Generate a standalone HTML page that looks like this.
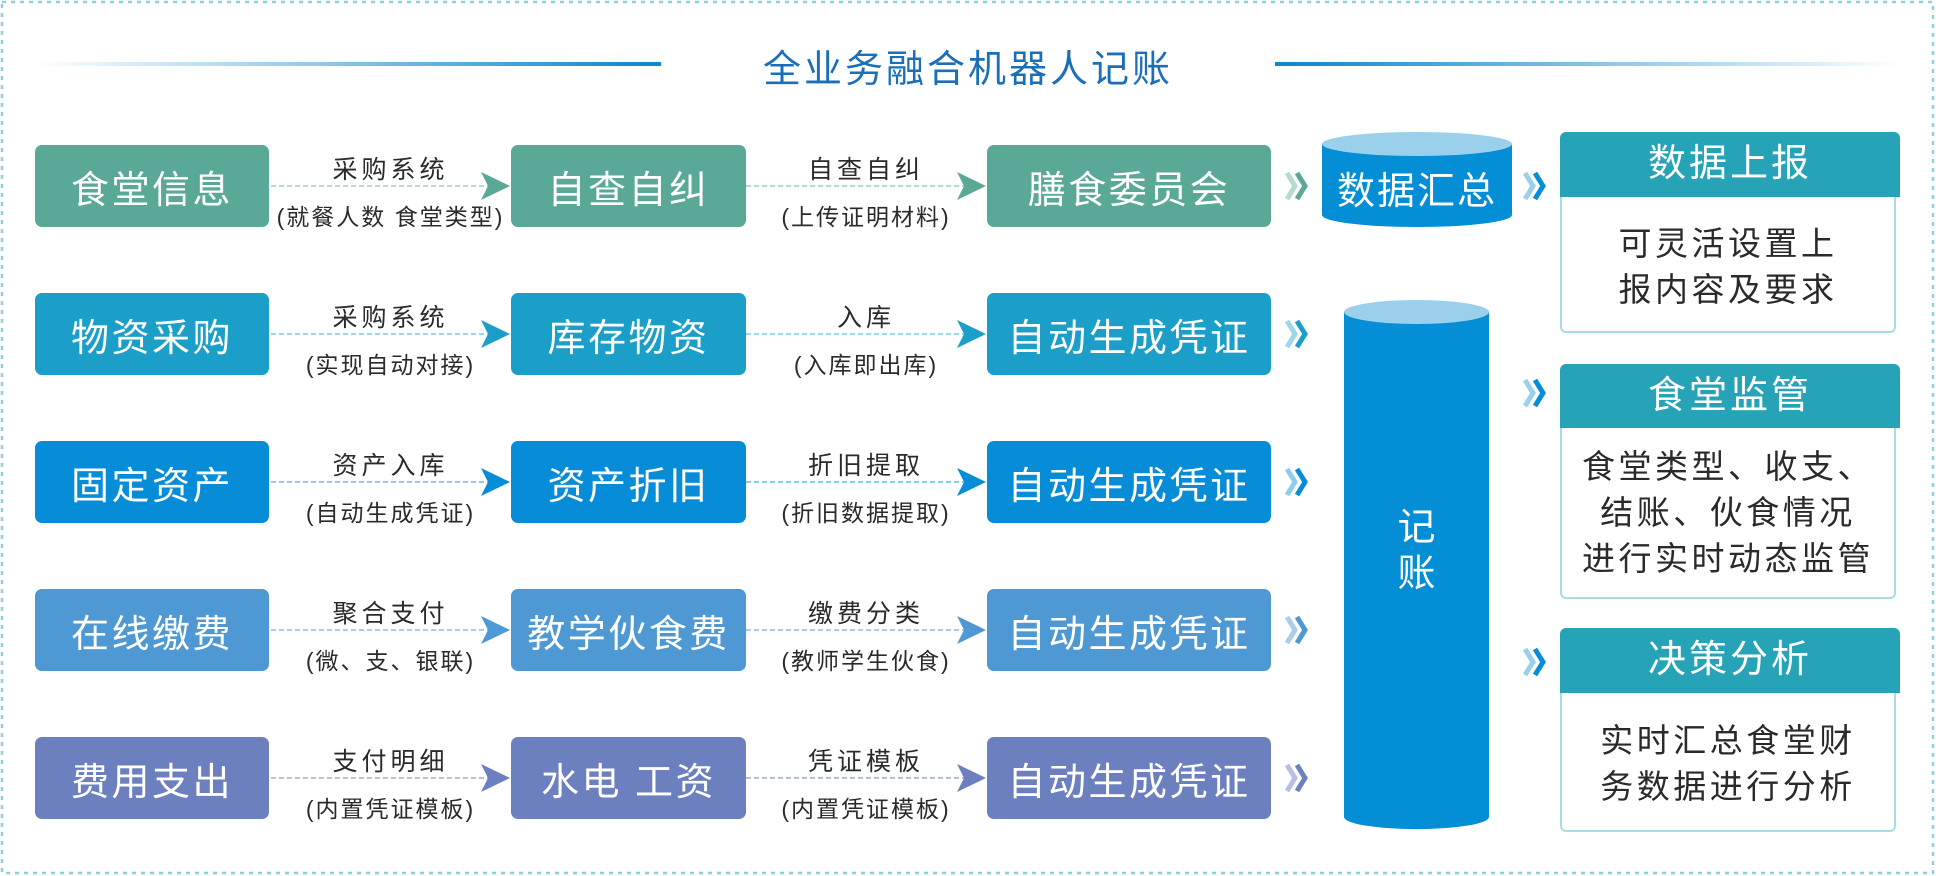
<!DOCTYPE html>
<html><head><meta charset="utf-8"><style>
body{margin:0;width:1936px;height:876px;background:#fff;position:relative;overflow:hidden;font-family:"Liberation Sans","Noto Sans CJK SC",sans-serif}
.a{position:absolute}
.box{position:absolute;color:#fff;font-size:38px;display:flex;align-items:center;justify-content:center;border-radius:7px;letter-spacing:2.5px}
.lbl{position:absolute;width:240px;text-align:center;font-size:25px;color:#2a2a2a;letter-spacing:4px}
.ph{position:absolute;left:1560px;width:340px;background:#27a3b8;color:#fff;font-size:38px;text-align:center;border-radius:6px 6px 0 0;letter-spacing:3px}
.pb{position:absolute;left:1560px;width:336px;border:2px solid #a8dbe5;border-top:none;border-radius:0 0 6px 6px;font-size:33px;color:#2a2a2a;text-align:center;line-height:46px;letter-spacing:3.5px}
</style></head><body>
<svg class="a" style="left:0;top:0" width="1936" height="876">
<defs>
<linearGradient id="g1" x1="0" x2="1"><stop offset="0" stop-color="#0a86d0" stop-opacity="0"/><stop offset="1" stop-color="#0a86d0"/></linearGradient>
<linearGradient id="g2" x1="0" x2="1"><stop offset="0" stop-color="#0a86d0"/><stop offset="1" stop-color="#0a86d0" stop-opacity="0"/></linearGradient>
</defs>
<rect x="2" y="2" width="1931" height="871" fill="none" stroke="#8fd0de" stroke-width="2.5" stroke-dasharray="4 5"/>
<rect x="35" y="62" width="626" height="4" fill="url(#g1)"/>
<rect x="1275" y="62" width="626" height="4" fill="url(#g2)"/>
<g id="arrows"></g>
<path d="M1322 144 V215 A95 12 0 0 0 1512 215 V144 Z" fill="#048ed6"/>
<ellipse cx="1417" cy="144" rx="95" ry="12" fill="#9bd0ec"/>
<path d="M1344 312 V817 A72 12 0 0 0 1489 817 V312 Z" fill="#048ed6"/>
<ellipse cx="1416.5" cy="312" rx="72.5" ry="12" fill="#9bd0ec"/>
</svg>
<div class="a" style="left:560px;top:38px;width:816px;text-align:center;font-size:38px;color:#1a6fb8;letter-spacing:3px">全业务融合机器人记账</div>
<div class="a" style="left:1322px;top:160px;width:190px;text-align:center;font-size:38px;color:#fff;letter-spacing:2px">数据汇总</div>
<div class="a" style="left:1344px;top:505px;width:145px;text-align:center;font-size:38px;color:#fff;line-height:46px">记<br>账</div>

<div class="ph" style="top:132px;height:65px;line-height:65px">数据上报</div>
<div class="pb" style="top:197px;height:136px;padding-top:24px;box-sizing:border-box">可灵活设置上<br>报内容及要求</div>
<div class="ph" style="top:364px;height:64px;line-height:64px">食堂监管</div>
<div class="pb" style="top:428px;height:171px;padding-top:16px;box-sizing:border-box">食堂类型、收支、<br>结账、伙食情况<br>进行实时动态监管</div>
<div class="ph" style="top:628px;height:65px;line-height:65px">决策分析</div>
<div class="pb" style="top:693px;height:139px;padding-top:25px;box-sizing:border-box">实时汇总食堂财<br>务数据进行分析</div>

<div id="rows"></div>
<script>
var rows=[
["#5aa996","#b3dbd0",["食堂信息","自查自纠","膳食委员会"],["采购系统","(就餐人数 食堂类型)"],["自查自纠","(上传证明材料)"]],
["#1b9fc9","#9fd6ea",["物资采购","库存物资","自动生成凭证"],["采购系统","(实现自动对接)"],["入库","(入库即出库)"]],
["#078cd8","#8fcdee",["固定资产","资产折旧","自动生成凭证"],["资产入库","(自动生成凭证)"],["折旧提取","(折旧数据提取)"]],
["#4e98d4","#a9cdeb",["在线缴费","教学伙食费","自动生成凭证"],["聚合支付","(微、支、银联)"],["缴费分类","(教师学生伙食)"]],
["#6c80bf","#b7c0e2",["费用支出","水电 工资","自动生成凭证"],["支付明细","(内置凭证模板)"],["凭证模板","(内置凭证模板)"]]];
var xs=[[35,234],[511,235],[987,284]];
var h="",s="";
function chev(x,y,c1,c2){return '<polyline points="'+x+','+(y-13)+' '+(x+8)+','+y+' '+x+','+(y+13)+'" fill="none" stroke="'+c1+'" stroke-width="5"/><polyline points="'+(x+10)+','+(y-13)+' '+(x+18)+','+y+' '+(x+10)+','+(y+13)+'" fill="none" stroke="'+c2+'" stroke-width="5"/>';}
rows.forEach(function(r,i){
 var top=145+i*148,cy=top+41;
 for(var j=0;j<3;j++)h+='<div class="box" style="left:'+xs[j][0]+'px;top:'+top+'px;width:'+xs[j][1]+'px;height:82px;background:'+r[0]+'">'+r[2][j]+'</div>';
 [[271,510,r[3]],[746,986,r[4]]].forEach(function(a){
  s+='<line x1="'+a[0]+'" y1="'+cy+'" x2="'+(a[1]-20)+'" y2="'+cy+'" stroke="'+r[1]+'" stroke-width="2" stroke-dasharray="5 3"/>';
  s+='<path d="M'+(a[1]-29)+' '+(cy-14)+' L'+a[1]+' '+cy+' L'+(a[1]-29)+' '+(cy+14)+' L'+(a[1]-22)+' '+cy+' Z" fill="'+r[0]+'"/>';
  var mx=(a[0]+a[1])/2-120;
  h+='<div class="lbl" style="left:'+mx+'px;top:'+(cy-36)+'px">'+a[2][0]+'</div>';
  h+='<div class="lbl" style="left:'+mx+'px;top:'+(cy+12)+'px;font-size:23px;letter-spacing:2px">'+a[2][1]+'</div>';
 });
 s+=chev(1287,cy,r[1],r[0]);
});
s+=chev(1525,186,"#9bd0ec","#078cd8")+chev(1525,393,"#9bd0ec","#078cd8")+chev(1525,662,"#9bd0ec","#078cd8");
document.getElementById("rows").innerHTML=h;
document.getElementById("arrows").innerHTML=s;
</script>
</body></html>
